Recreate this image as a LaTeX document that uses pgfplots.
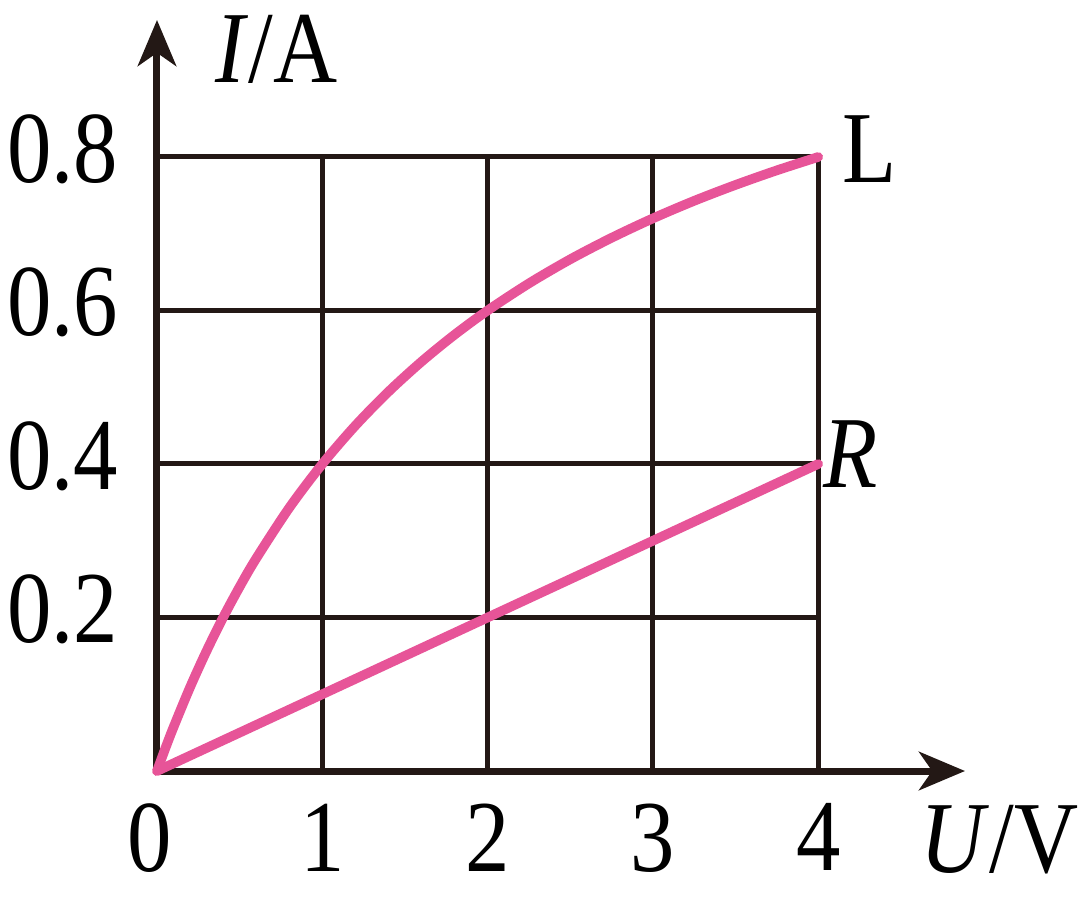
\documentclass[border=0pt]{standalone}
\usepackage{fontspec}
\setmainfont{Liberation Serif}[FakeStretch=0.87]
\usepackage{pgfplots}
\pgfplotsset{compat=1.18}
\usetikzlibrary{arrows.meta}
\definecolor{curvepink}{RGB}{231,84,152}
\definecolor{inkblack}{RGB}{35,24,21}
\newcommand{\bigfont}{\fontsize{25.5pt}{29pt}\selectfont}
\begin{document}
\begin{tikzpicture}
\useasboundingbox (0,0) rectangle (270pt,225.25pt);
\begin{axis}[
  at={(39.25pt,32.5pt)}, anchor=south west,
  x=41.325pt, y=191.875pt,
  xmin=0, xmax=4.888, ymin=0, ymax=0.9785,
  axis lines=left,
  axis line style={inkblack, line width=1.75pt, -{Stealth[length=11.5pt,width=9.6pt,inset=3.3pt]}},
  xtick={0,1,2,3,4},
  xticklabels={\hspace*{-3.5pt}0,1,2,3,4},
  ytick={0.2,0.4,0.6,0.8},
  yticklabels={0.2,0.4,0.6,0.8},
  major tick length=0pt,
  tick style={draw=none},
  tick label style={font=\bigfont, text=black, inner sep=0pt},
  xticklabel style={anchor=north, yshift=-8pt},
  yticklabel style={anchor=east, xshift=-9.5pt, yshift=2pt},
  clip=false,
]
% grid
\addplot[inkblack, line width=1.25pt] coordinates {(1,0) (1,0.8)};
\addplot[inkblack, line width=1.25pt] coordinates {(2,0) (2,0.8)};
\addplot[inkblack, line width=1.25pt] coordinates {(3,0) (3,0.8)};
\addplot[inkblack, line width=1.25pt] coordinates {(0,0.2) (4,0.2)};
\addplot[inkblack, line width=1.25pt] coordinates {(0,0.4) (4,0.4)};
\addplot[inkblack, line width=1.25pt] coordinates {(0,0.6) (4,0.6)};
\addplot[inkblack, line width=1.25pt, line join=round] coordinates {(0,0.8) (4,0.8) (4,0)};
% curves
\addplot[curvepink, line width=2.4pt, line cap=round, smooth] coordinates {
 (0,0) (0.05,0.0293) (0.1,0.0571) (0.2,0.1091) (0.3,0.1565) (0.4,0.2)
 (0.5,0.24) (0.6,0.2769) (0.8,0.3429) (1,0.4) (1.2,0.45) (1.4,0.4941)
 (1.6,0.5333) (1.8,0.5684) (2,0.6) (2.25,0.6353) (2.5,0.6667) (2.75,0.6947)
 (3,0.72) (3.25,0.7429) (3.5,0.7636) (3.75,0.7826) (4,0.8)};
\addplot[curvepink, line width=2.4pt, line cap=round] coordinates {(0,0) (4,0.4)};
% labels
\node[anchor=base west, inner sep=0pt, font=\bigfont] at (axis cs:0.351,0.8964) {\textit{I}/A};
\node[anchor=base west, inner sep=0pt, font=\bigfont] at (axis cs:4.616,-0.1316) {\textit{U}/V};
\node[anchor=base west, inner sep=0pt, font=\bigfont] at (axis cs:4.144,0.7674) {L};
\node[anchor=base west, inner sep=0pt, font=\bigfont] at (axis cs:4.03,0.370) {\textit{R}};
\end{axis}
\end{tikzpicture}
\end{document}
